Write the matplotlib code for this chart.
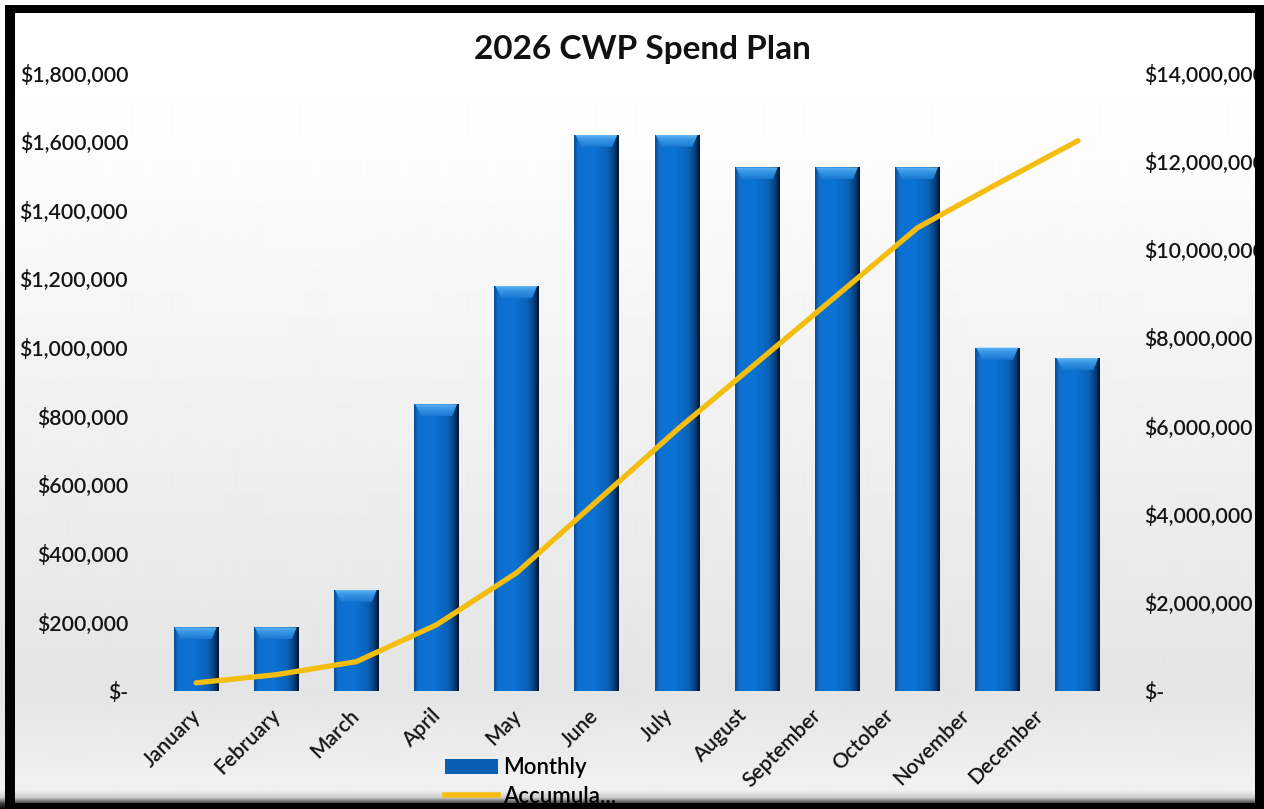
import numpy as np
import matplotlib
matplotlib.use("Agg")
import matplotlib.pyplot as plt
from matplotlib.colors import LinearSegmentedColormap
from matplotlib.patches import Rectangle, Polygon, Patch
from matplotlib.lines import Line2D
from matplotlib.ticker import FuncFormatter, MultipleLocator
import matplotlib.transforms as mtransforms

plt.rcParams['font.family'] = ['Lato', 'DejaVu Sans']

# ---- data ----
months = ["January", "February", "March", "April", "May", "June",
          "July", "August", "September", "October", "November", "December"]
monthly = [185000, 185000, 295000, 835000, 1180000, 1620000,
           1620000, 1525000, 1525000, 1525000, 1000000, 970000]
accumulated = [185000, 370000, 665000, 1500000, 2680000, 4300000,
               5920000, 7445000, 8970000, 10495000, 11495000, 12465000]
title = "2026 CWP Spend Plan"
legend_labels = ["Monthly", "Accumula..."]

# horizontal nudge (pixels) of each rotated month label
label_nudge_px = [1, 1, 0, 1, 1, -2, -8, -14, -20, -27, -32, -38]

W, H = 1264, 809
fig = plt.figure(figsize=(W / 100, H / 100), dpi=100)


def fx(px):
    return px / W


def fy(py):
    return 1 - py / H


# ---- background gradient (whole chart area) ----
bg = fig.add_axes([0, 0, 1, 1], zorder=-10)
bg.set_axis_off()
rows = np.arange(H)
stops_y = [0, 13, 120, 690, 790, 797, 803, 809]
stops_v = [1.0, 1.0, 0.995, 0.895, 0.945, 0.80, 0.25, 0.0]
shade = np.interp(rows, stops_y, stops_v)
bg.imshow(np.repeat(shade[:, None], 4, axis=1), cmap='gray', vmin=0, vmax=1,
          aspect='auto', extent=[0, 1, 0, 1], interpolation='bilinear')
bg.set_xlim(0, 1)
bg.set_ylim(0, 1)

TXT = '#141414'
WEIGHT = 'semibold'

# ---- main axes ----
ax = fig.add_axes([fx(156), fy(691), fx(1118) - fx(156), fy(73) - fy(691)])
ax.set_facecolor('none')
x = np.arange(len(months))
bars = ax.bar(x, monthly, width=0.56, color='#0b6ccb', zorder=2, linewidth=0)

body_cmap = LinearSegmentedColormap.from_list(
    'body', [(0.0, '#0b4c92'), (0.08, '#0e70d0'), (0.45, '#0b72d3'),
             (0.75, '#0a62b8'), (0.9, '#083f7c'), (1.0, '#03162e')])
bevel_cmap = LinearSegmentedColormap.from_list(
    'bevel', [(0.0, '#1a78d2'), (0.7, '#3c9ae8'), (1.0, '#62b6f6')])

ax.set_xlim(-0.5, len(months) - 0.5)
ax.set_ylim(0, 1800000)

grad = np.linspace(0, 1, 64)[None, :]
vgrad = np.linspace(0, 1, 32)[:, None]
px_per_x = (1118 - 156) / len(months)
px_per_y = 618 / 1800000
for b in bars:
    x0, w, h = b.get_x(), b.get_width(), b.get_height()
    im = ax.imshow(grad, cmap=body_cmap, aspect='auto', extent=[x0, x0 + w, 0, h],
                   zorder=2.1, interpolation='bilinear')
    im.set_clip_path(b)
    inset = 7 / px_per_x
    bh = 12 / px_per_y
    poly = Polygon([(x0 + 1 / px_per_x, h), (x0 + w - 2 / px_per_x, h),
                    (x0 + w - inset, h - bh), (x0 + inset, h - bh)],
                   closed=True, facecolor='none', edgecolor='none', zorder=2.2)
    ax.add_patch(poly)
    im2 = ax.imshow(vgrad, cmap=bevel_cmap, aspect='auto', origin='lower',
                    extent=[x0, x0 + w, h - bh, h], zorder=2.2,
                    interpolation='bilinear')
    im2.set_clip_path(poly)

ax.axhline(0, color='#dadada', lw=1.0, zorder=1)

for s in ax.spines.values():
    s.set_visible(False)

ax.yaxis.set_major_locator(MultipleLocator(200000))


def money(v, pos):
    if abs(v) < 1:
        return "$-"
    return "${:,.0f}".format(v)


ax.yaxis.set_major_formatter(FuncFormatter(money))
ax.tick_params(axis='y', length=0, pad=20, labelsize=15.3, labelcolor=TXT)
for lab in ax.get_yticklabels():
    lab.set_fontweight(WEIGHT)
ax.set_xticks(x)
ax.set_xticklabels(months, rotation=45, ha='right', va='center',
                   rotation_mode='anchor', fontsize=15, color=TXT,
                   fontweight=WEIGHT)
ax.tick_params(axis='x', length=0, pad=15.5)
for lab, nudge in zip(ax.get_xticklabels(), label_nudge_px):
    offset = mtransforms.ScaledTranslation(nudge / 100, 0, fig.dpi_scale_trans)
    lab.set_transform(lab.get_transform() + offset)

# ---- accumulated line on secondary axis ----
ax2 = ax.twinx()
ax2.set_facecolor('none')
ax2.plot(x, accumulated, color='#f4be10', lw=3.8, solid_capstyle='round',
         solid_joinstyle='round', zorder=5)
ax2.set_ylim(0, 14000000)
ax2.yaxis.set_major_locator(MultipleLocator(2000000))
ax2.yaxis.set_major_formatter(FuncFormatter(money))
ax2.tick_params(axis='y', length=0, pad=19, labelsize=15.3, labelcolor=TXT)
for lab in ax2.get_yticklabels():
    lab.set_fontweight(WEIGHT)
for s in ax2.spines.values():
    s.set_visible(False)

# ---- title ----
fig.text(fx(642), fy(49), title, ha='center', va='center', fontsize=24,
         fontweight='bold', color='#111111')

# ---- legend ----
handles = [Patch(facecolor='#0a5fb4', edgecolor='none'),
           Line2D([0], [0], color='#f4be10', lw=4)]
fig.legend(handles, legend_labels, loc='center left',
           bbox_to_anchor=(fx(445), fy(782)),
           frameon=False, handlelength=2.4, handleheight=0.7,
           handletextpad=0.2, labelspacing=0.33, borderpad=0, borderaxespad=0,
           prop={'weight': WEIGHT, 'size': 16})

# ---- black chart border ----
for (x0, y0, x1, y1) in [(5, 5, 15, 809), (5, 5, 1264, 13),
                         (1255, 5, 1264, 809), (5, 803, 1264, 809)]:
    fig.patches.append(Rectangle((fx(x0), fy(y1)), fx(x1) - fx(x0), fy(y0) - fy(y1),
                                 transform=fig.transFigure, facecolor='black',
                                 edgecolor='none', zorder=20))

fig.savefig("out.png", dpi=100)
